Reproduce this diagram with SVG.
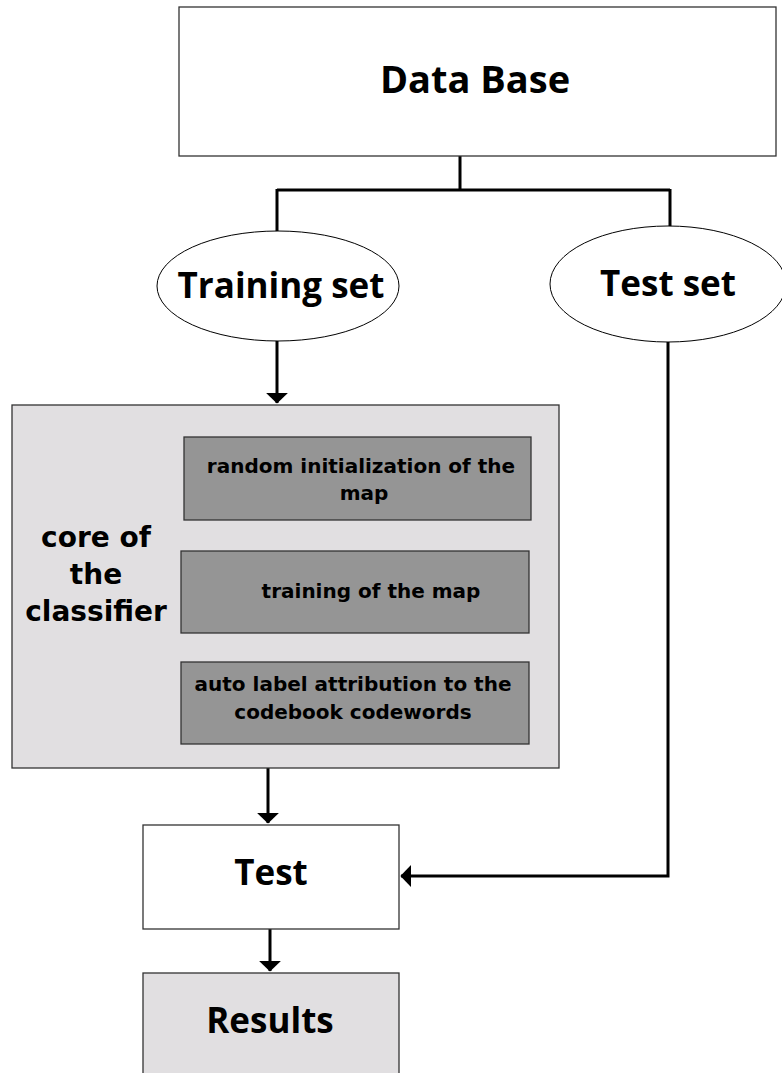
<svg xmlns="http://www.w3.org/2000/svg" width="782" height="1073" viewBox="0 0 782 1073">
<defs>
<marker id="ah" markerWidth="8" markerHeight="8" refX="3.4" refY="4" orient="auto" markerUnits="strokeWidth">
<path d="M0,0.3 L3.6,4 L0,7.7 Z" fill="#000"/>
</marker>
</defs>
<style>
.box{stroke:#333;stroke-width:1.3}
.white{fill:#fff}
.light{fill:#e1dfe1}
.dark{fill:#959595}
.lbl{font-family:"Open Sans","DejaVu Sans",sans-serif;font-weight:bold;fill:#000;text-anchor:middle}
.big{font-size:38px}
.mid{font-size:35px}
.core{font-family:"DejaVu Sans",sans-serif;font-size:28px;font-weight:bold}
.sm{font-family:"DejaVu Sans",sans-serif;font-size:20px;font-weight:bold}
.conn{stroke:#000;stroke-width:3;fill:none}
</style>
<rect width="782" height="1073" fill="#fff"/>
<g id="connectors">
<path class="conn" d="M460,156 V190 M277,190 H670 M277,189 V232 M670,189 V228"/>
<path class="conn" d="M277,340 V403" marker-end="url(#ah)"/>
<path class="conn" d="M668,342 V876 H401" marker-end="url(#ah)"/>
<path class="conn" d="M268,768 V823" marker-end="url(#ah)"/>
<path class="conn" d="M270,929 V971" marker-end="url(#ah)"/>
</g>
<g id="database">
<rect class="box white" x="179" y="7" width="597" height="149"/>
<text class="lbl big" x="475" y="93">Data Base</text>
</g>
<g id="training-set">
<ellipse cx="278" cy="286" rx="121" ry="55" fill="#fff" stroke="#000" stroke-width="1"/>
<text class="lbl mid" x="281" y="298">Training set</text>
</g>
<g id="test-set">
<ellipse cx="668" cy="284" rx="118" ry="58" fill="#fff" stroke="#000" stroke-width="1"/>
<text class="lbl mid" x="668" y="296">Test set</text>
</g>
<g id="core">
<rect class="box light" x="12" y="405" width="547" height="363"/>
<text class="lbl core" x="96" y="547">core of</text>
<text class="lbl core" x="96" y="584">the</text>
<text class="lbl core" x="96" y="621">classifier</text>
</g>
<g id="step1">
<rect class="box dark" x="184" y="437" width="347" height="83"/>
<text class="lbl sm" x="361" y="473">random initialization of the</text>
<text class="lbl sm" x="364" y="500">map</text>
</g>
<g id="step2">
<rect class="box dark" x="181" y="551" width="348" height="82"/>
<text class="lbl sm" x="371" y="598">training of the map</text>
</g>
<g id="step3">
<rect class="box dark" x="181" y="662" width="348" height="82"/>
<text class="lbl sm" x="353" y="691">auto label attribution to the</text>
<text class="lbl sm" x="353" y="719">codebook codewords</text>
</g>
<g id="test">
<rect class="box white" x="143" y="825" width="256" height="104"/>
<text class="lbl mid" x="271" y="885">Test</text>
</g>
<g id="results">
<rect class="box light" x="143" y="973" width="256" height="110"/>
<text class="lbl mid" x="270" y="1033">Results</text>
</g>
</svg>
